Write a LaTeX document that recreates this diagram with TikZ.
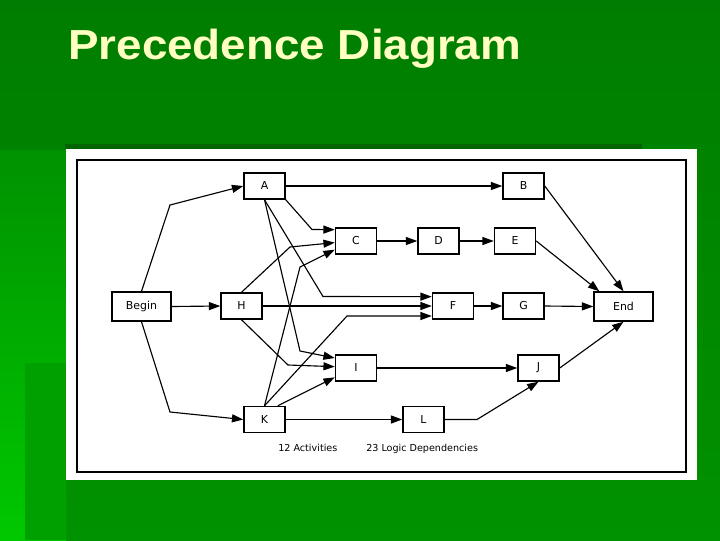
\documentclass[tikz,border=0pt]{standalone}
\usepackage{fontspec}
\usepackage{tikz}
\usetikzlibrary{arrows.meta}
\newfontfamily\headfont{Liberation Sans}
\newfontfamily\boxfont{DejaVu Sans}
\definecolor{slidetop}{HTML}{007D00}
\definecolor{slidebottom}{HTML}{009200}
\definecolor{sidebright}{HTML}{00C800}
\definecolor{sidemid}{HTML}{00A000}
\definecolor{stripdark}{HTML}{006400}
\definecolor{headyellow}{HTML}{FFFFC2}

\begin{document}
\begin{tikzpicture}[
    x=0.75pt,
    y=-0.75pt,
    act/.style={draw, line width=1.1, minimum width=30.75pt, minimum height=19.5pt,
      inner sep=0pt, font=\boxfont\fontsize{8.2}{9}\selectfont},
    term/.style={act, minimum width=44.25pt, minimum height=21.75pt},
    dep/.style={line width=0.85, -{Triangle[length=8.5pt,width=6pt]}},
    note/.style={anchor=base west, inner sep=0pt, font=\boxfont\fontsize{7.2}{9}\selectfont}
]
  \useasboundingbox (0,0) rectangle (720,540);
  \shade[top color=slidetop, bottom color=slidebottom] (0,0) rectangle (720,540);
  \shade[top color=slidebottom, bottom color=sidebright] (0,150) rectangle (66,540);
  \fill[sidemid] (25,363) rectangle (66,540);
  \fill[stripdark] (65,144) rectangle (642,149);
  \fill[white] (66,149) rectangle (697,480);
  \draw[line width=1.2] (77,160) rectangle (686,472);

  \node[anchor=base west, inner sep=0pt, xscale=1.09, text=headyellow,
    font=\headfont\bfseries\fontsize{31.5}{36}\selectfont] (title) at (68,59) {Precedence Diagram};

  \node[term] (begin) at (141.5,306.5) {Begin};
  \node[act] (A) at (264.5,186) {A};
  \node[act] (B) at (523.5,186) {B};
  \node[act] (C) at (356,241) {C};
  \node[act] (D) at (438.5,241) {D};
  \node[act] (E) at (515,241) {E};
  \node[act] (H) at (241.5,306) {H};
  \node[act] (F) at (453,306) {F};
  \node[act] (G) at (523.5,306) {G};
  \node[term] (end) at (623.5,306.5) {End};
  \node[act] (I) at (356,368) {I};
  \node[act] (J) at (538.5,368) {J};
  \node[act] (K) at (264.5,419.5) {K};
  \node[act] (L) at (423.5,419.5) {L};

  \draw[dep] (begin.north) -- (170,205) -- (A.west);
  \draw[dep] (begin.east) -- (H.west);
  \draw[dep] (begin.south) -- (170,412) -- (K.west);
  \draw[dep] (A.east) -- (B.west);
  \draw[dep] (A.south east) -- (312,229.5) -- ([yshift=8.5pt]C.west);
  \draw[dep] (A.south) -- (323,296.5) -- ([yshift=7pt]F.west);
  \draw[dep] (A.south) -- (300,351) -- ([yshift=7.5pt]I.west);
  \draw[dep] (H.north) -- (290,247) -- ([yshift=-1.2pt]C.west);
  \draw[dep] (H.east) -- (F.west);
  \draw[dep] (H.south) -- (288,365) -- ([yshift=1pt]I.west);
  \draw[dep] (K.north) -- (300,267) -- ([yshift=-6.5pt]C.west);
  \draw[dep] (K.north) -- (347,316) -- ([yshift=-7.5pt]F.west);
  \draw[dep] ([xshift=10pt]K.north) -- ([yshift=-7pt]I.west);
  \draw[dep] (K.east) -- (L.west);
  \draw[dep] (C.east) -- (D.west);
  \draw[dep] (D.east) -- (E.west);
  \draw[dep] (F.east) -- (G.west);
  \draw[dep] (G.east) -- (end.west);
  \draw[dep] (I.east) -- (J.west);
  \draw[dep] (L.east) -- (477,419.5) -- (J.south);
  \draw[dep] (B.east) -- (end.north);
  \draw[dep] (E.east) -- ([xshift=4.5pt]end.north west);
  \draw[dep] (J.east) -- (end.south);

  \node[note] (acts) at (278,451.5) {12 Activities};
  \node[note] (deps) at (366,451.5) {23 Logic Dependencies};
\end{tikzpicture}
\end{document}
